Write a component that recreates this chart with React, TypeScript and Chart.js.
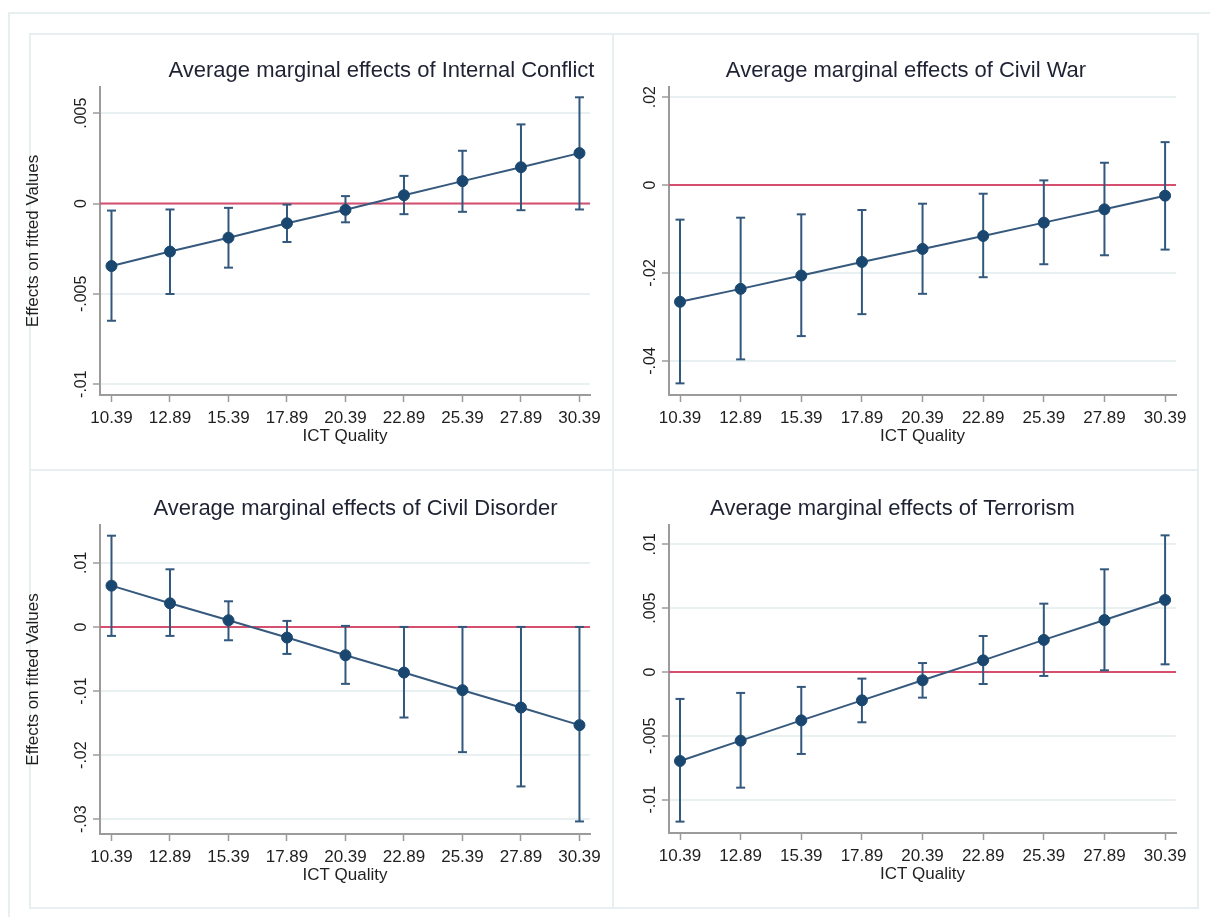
import React, { useEffect, useRef } from "react";
import { Chart, registerables } from "chart.js";

Chart.register(...registerables);

const FONT = '"Liberation Sans", Arial, Helvetica, sans-serif';

// ---------------- data ----------------
const ictQuality = [10.39, 12.89, 15.39, 17.89, 20.39, 22.89, 25.39, 27.89, 30.39];

const panelTitles = [
  "Average marginal effects of Internal Conflict",
  "Average marginal effects of Civil War",
  "Average marginal effects of Civil Disorder",
  "Average marginal effects of Terrorism",
];
const yAxisTitle = "Effects on fitted Values";
const xAxisTitle = "ICT Quality";

const internalConflictEffect = [-0.00346, -0.00266, -0.00189, -0.00109, -0.00035, 0.00046, 0.00124, 0.00201, 0.00279];
const internalConflictLower = [-0.00649, -0.00501, -0.00355, -0.00213, -0.00104, -0.00059, -0.00046, -0.00037, -0.00033];
const internalConflictUpper = [-0.00039, -0.00033, -0.00024, -0.00006, 0.00041, 0.00153, 0.00292, 0.00438, 0.00588];
const internalConflictTicks = [-0.01, -0.005, 0, 0.005];
const internalConflictTickLabels = ["-.01", "-.005", "0", ".005"];

const civilWarEffect = [-0.02656, -0.02361, -0.02058, -0.01748, -0.01453, -0.01158, -0.00855, -0.00552, -0.00242];
const civilWarLower = [-0.0451, -0.03965, -0.03435, -0.02936, -0.02474, -0.02096, -0.01801, -0.01597, -0.01468];
const civilWarUpper = [-0.00787, -0.00742, -0.00666, -0.00568, -0.00424, -0.00197, 0.00106, 0.00507, 0.00976];
const civilWarTicks = [-0.04, -0.02, 0, 0.02];
const civilWarTickLabels = ["-.04", "-.02", "0", ".02"];

const civilDisorderEffect = [0.00644, 0.00369, 0.00104, -0.00166, -0.00442, -0.00712, -0.00987, -0.01257, -0.01532];
const civilDisorderLower = [-0.0014, -0.0014, -0.00208, -0.00421, -0.00888, -0.01413, -0.01953, -0.02488, -0.03034];
const civilDisorderUpper = [0.01423, 0.00899, 0.004, 0.00094, 0.00016, 0.0, 0.0, 0.0, 0.0];
const civilDisorderTicks = [-0.03, -0.02, -0.01, 0, 0.01];
const civilDisorderTickLabels = ["-.03", "-.02", "-.01", "0", ".01"];

const terrorismEffect = [-0.00697, -0.00538, -0.00379, -0.00222, -0.00065, 0.00091, 0.00251, 0.00407, 0.00564];
const terrorismLower = [-0.01172, -0.00906, -0.00642, -0.00394, -0.00201, -0.00094, -0.00031, 0.00013, 0.0006];
const terrorismUpper = [-0.00211, -0.00164, -0.00117, -0.00052, 0.0007, 0.00282, 0.00535, 0.00804, 0.0107];
const terrorismTicks = [-0.01, -0.005, 0, 0.005, 0.01];
const terrorismTickLabels = ["-.01", "-.005", "0", ".005", ".01"];

// ---------------- styles / layout ----------------
const NAVY = "#1a476f";
const LINE_COLOR = "#36597d";
const BAR_COLOR = "#33587d";
const REF_COLOR = "#d64f6e";
const AXIS_COLOR = "#9b9b9b";
const GRID_COLOR = "#e8f0f2";
const FRAME_COLOR = "#e7eff1";
const TEXT_COLOR = "#1f1f1f";
const TITLE_COLOR = "#1e2233";

type PanelSpec = {
  effect: number[];
  lower: number[];
  upper: number[];
  ticks: number[];
  tickLabels: string[];
  title: string;
  yTitle: string | null;
  yMin: number;
  yMax: number;
  xMin: number;
  xMax: number;
  left: number;
  top: number;
  w: number;
  h: number;
  area: { left: number; top: number; right: number; bottom: number };
  titleX: number;
  titleY: number;
  yTitleX: number;
};

const panels: PanelSpec[] = [
  {
    effect: internalConflictEffect, lower: internalConflictLower, upper: internalConflictUpper,
    ticks: internalConflictTicks, tickLabels: internalConflictTickLabels,
    title: panelTitles[0], yTitle: yAxisTitle,
    yMin: -0.0106, yMax: 0.00645, xMin: 9.899, xMax: 30.84,
    left: 8, top: 12, w: 605, h: 458,
    area: { left: 92, top: 75, right: 582, bottom: 383 },
    titleX: 373.5, titleY: 58.5, yTitleX: 25,
  },
  {
    effect: civilWarEffect, lower: civilWarLower, upper: civilWarUpper,
    ticks: civilWarTicks, tickLabels: civilWarTickLabels,
    title: panelTitles[1], yTitle: null,
    yMin: -0.04775, yMax: 0.0223, xMin: 9.936, xMax: 30.84,
    left: 613, top: 12, w: 597, h: 458,
    area: { left: 56, top: 75, right: 563, bottom: 383 },
    titleX: 293, titleY: 59, yTitleX: 0,
  },
  {
    effect: civilDisorderEffect, lower: civilDisorderLower, upper: civilDisorderUpper,
    ticks: civilDisorderTicks, tickLabels: civilDisorderTickLabels,
    title: panelTitles[2], yTitle: yAxisTitle,
    yMin: -0.0323, yMax: 0.0159, xMin: 9.899, xMax: 30.84,
    left: 8, top: 470, w: 605, h: 447,
    area: { left: 92, top: 55, right: 582, bottom: 364 },
    titleX: 347.5, titleY: 39, yTitleX: 25,
  },
  {
    effect: terrorismEffect, lower: terrorismLower, upper: terrorismUpper,
    ticks: terrorismTicks, tickLabels: terrorismTickLabels,
    title: panelTitles[3], yTitle: null,
    yMin: -0.01261, yMax: 0.01151, xMin: 9.936, xMax: 30.84,
    left: 613, top: 470, w: 597, h: 447,
    area: { left: 56, top: 55, right: 563, bottom: 363 },
    titleX: 279.5, titleY: 39, yTitleX: 0,
  },
];

const Y_SCALE_W = 30;
const X_SCALE_H = 40;

function buildConfig(p: PanelSpec): any {
  const mainData = ictQuality.map((x, i) => ({ x, y: p.effect[i] }));
  const barData: any[] = [];
  ictQuality.forEach((x, i) => {
    barData.push({ x, y: p.lower[i] });
    barData.push({ x, y: p.upper[i] });
    barData.push({ x, y: null });
  });
  const refData = [
    { x: p.xMin, y: 0 },
    { x: p.xMax, y: 0 },
  ];

  const textPlugin = {
    id: "panelText",
    afterDraw(chart: any) {
      const { ctx, chartArea, scales } = chart;
      ctx.save();
      // title
      ctx.fillStyle = TITLE_COLOR;
      ctx.font = `22px ${FONT}`;
      ctx.textAlign = "center";
      ctx.textBaseline = "middle";
      ctx.fillText(p.title, p.titleX, p.titleY);

      // y tick labels (rotated)
      ctx.fillStyle = TEXT_COLOR;
      ctx.font = `16px ${FONT}`;
      p.ticks.forEach((v, i) => {
        const y = scales.y.getPixelForValue(v);
        ctx.save();
        ctx.translate(chartArea.left - 18, y);
        ctx.rotate(-Math.PI / 2);
        ctx.textAlign = "center";
        ctx.textBaseline = "middle";
        ctx.fillText(p.tickLabels[i], 0, 0);
        ctx.restore();
      });

      // y title
      if (p.yTitle) {
        ctx.save();
        ctx.font = `17px ${FONT}`;
        ctx.translate(p.yTitleX, (chartArea.top + chartArea.bottom) / 2);
        ctx.rotate(-Math.PI / 2);
        ctx.textAlign = "center";
        ctx.textBaseline = "middle";
        ctx.fillText(p.yTitle, 0, 0);
        ctx.restore();
      }

      // x title
      ctx.font = `17px ${FONT}`;
      ctx.textAlign = "center";
      ctx.textBaseline = "middle";
      ctx.fillText(xAxisTitle, (chartArea.left + chartArea.right) / 2, chartArea.bottom + 41.5);
      ctx.restore();
    },
  };

  return {
    type: "line",
    data: {
      datasets: [
        {
          data: mainData,
          borderColor: LINE_COLOR,
          borderWidth: 2,
          pointRadius: 5.5,
          pointBackgroundColor: NAVY,
          pointBorderColor: NAVY,
          pointBorderWidth: 1,
          fill: false,
          tension: 0,
          order: 0,
        },
        {
          data: barData,
          borderColor: BAR_COLOR,
          borderWidth: 2,
          pointStyle: "line",
          pointRadius: 4.5,
          pointBorderColor: BAR_COLOR,
          pointBorderWidth: 2,
          spanGaps: false,
          fill: false,
          order: 1,
        },
        {
          data: refData,
          borderColor: REF_COLOR,
          borderWidth: 2,
          pointRadius: 0,
          fill: false,
          order: 2,
        },
      ],
    },
    options: {
      responsive: false,
      animation: false,
      devicePixelRatio: 1,
      events: [],
      layout: {
        padding: {
          left: p.area.left - Y_SCALE_W,
          top: p.area.top,
          right: p.w - p.area.right,
          bottom: p.h - p.area.bottom - X_SCALE_H,
        },
      },
      plugins: {
        legend: { display: false },
        tooltip: { enabled: false },
        title: { display: false },
      },
      scales: {
        x: {
          type: "linear",
          min: p.xMin,
          max: p.xMax,
          afterBuildTicks: (scale: any) => {
            scale.ticks = ictQuality.map((v) => ({ value: v }));
          },
          afterFit: (scale: any) => {
            scale.height = X_SCALE_H;
          },
          ticks: {
            autoSkip: false,
            maxRotation: 0,
            minRotation: 0,
            padding: 6,
            color: TEXT_COLOR,
            font: { family: FONT, size: 17 },
            callback: (v: any) => Number(v).toFixed(2),
          },
          grid: {
            drawOnChartArea: false,
            drawTicks: true,
            tickLength: 7,
            tickColor: AXIS_COLOR,
            tickWidth: 1.5,
          },
          border: { display: true, color: AXIS_COLOR, width: 2 },
        },
        y: {
          type: "linear",
          min: p.yMin,
          max: p.yMax,
          afterBuildTicks: (scale: any) => {
            scale.ticks = p.ticks.map((v) => ({ value: v }));
          },
          afterFit: (scale: any) => {
            scale.width = Y_SCALE_W;
          },
          ticks: { display: false },
          grid: {
            drawOnChartArea: true,
            drawTicks: true,
            tickLength: 7,
            color: GRID_COLOR,
            lineWidth: 2,
            tickColor: AXIS_COLOR,
            tickWidth: 1.5,
          },
          border: { display: true, color: AXIS_COLOR, width: 2 },
        },
      },
    },
    plugins: [textPlugin],
  };
}

function PanelChart({ p }: { p: PanelSpec }) {
  const ref = useRef<HTMLCanvasElement | null>(null);
  useEffect(() => {
    if (!ref.current) return;
    const chart = new Chart(ref.current, buildConfig(p));
    return () => chart.destroy();
  }, [p]);
  return (
    <canvas
      ref={ref}
      width={p.w}
      height={p.h}
      style={{ position: "absolute", left: p.left, top: p.top, width: p.w, height: p.h }}
    />
  );
}

const frameBoxes = [
  { left: 29, top: 33, width: 585, height: 438 },
  { left: 612, top: 33, width: 587, height: 438 },
  { left: 29, top: 469, width: 585, height: 440 },
  { left: 612, top: 469, width: 587, height: 440 },
];

export default function App() {
  return (
    <div
      style={{
        position: "absolute",
        left: 0,
        top: 0,
        width: 1210,
        height: 917,
        overflow: "hidden",
        background: "#ffffff",
        fontFamily: FONT,
      }}
    >
      <div
        style={{
          position: "absolute",
          left: 8,
          top: 12,
          width: 1220,
          height: 930,
          border: `2px solid ${FRAME_COLOR}`,
          boxSizing: "border-box",
        }}
      />
      {frameBoxes.map((b, i) => (
        <div
          key={i}
          style={{
            position: "absolute",
            left: b.left,
            top: b.top,
            width: b.width,
            height: b.height,
            border: `2px solid ${FRAME_COLOR}`,
            boxSizing: "border-box",
          }}
        />
      ))}
      {panels.map((p, i) => (
        <PanelChart key={i} p={p} />
      ))}
    </div>
  );
}
